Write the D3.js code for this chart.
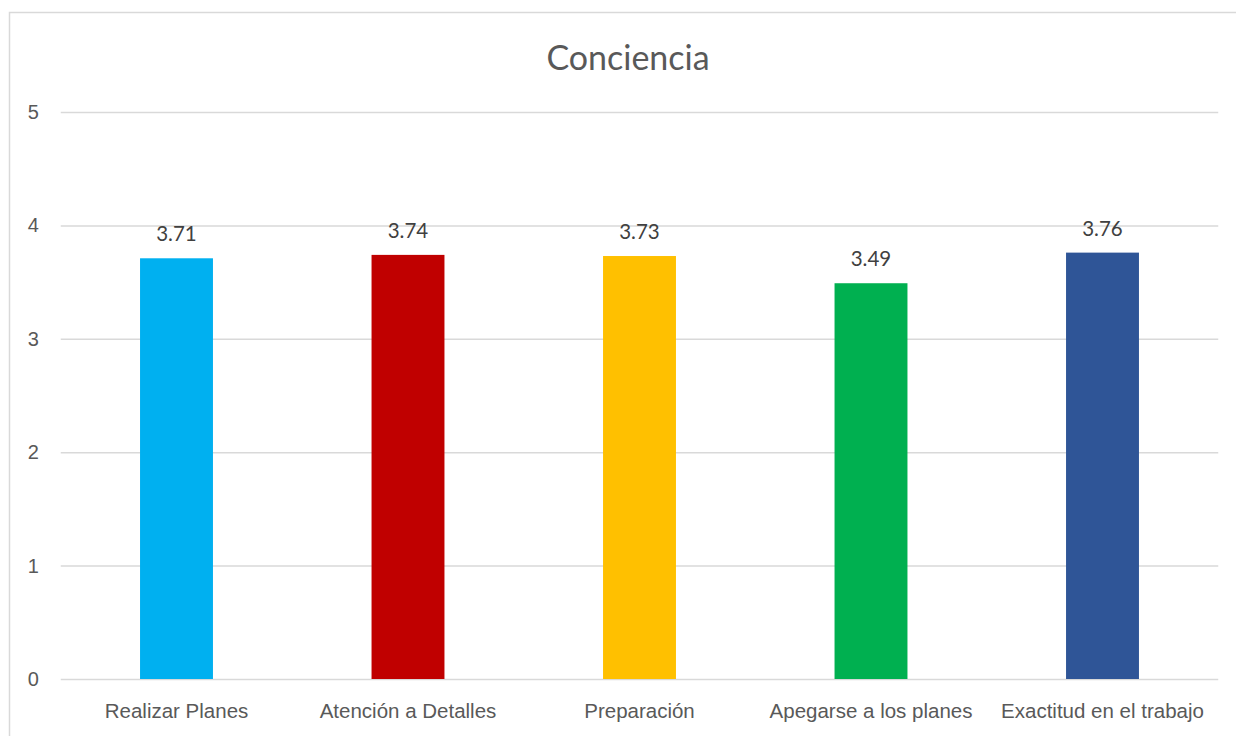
<!DOCTYPE html>
<html><head><meta charset="utf-8">
<script src="https://cdn.jsdelivr.net/npm/d3@7"></script>
<style>body{margin:0;background:#fff;}svg{display:block;font-family:Lato,"Open Sans",sans-serif;}</style>
</head><body><svg id="c" width="1236" height="736"></svg>
<script>
const title = "Conciencia";
const categories = ["Realizar Planes","Atención a Detalles","Preparación","Apegarse a los planes","Exactitud en el trabajo"];
const values = [3.71,3.74,3.73,3.49,3.76];
const colors = ["#00B0F0","#C00000","#FFC000","#00B050","#2F5597"];
const yTicks = [0,1,2,3,4,5];

const svg = d3.select("#c");
svg.append("rect").attr("x",9.5).attr("y",12.5).attr("width",1240).attr("height",740)
  .attr("fill","#fff").attr("stroke","#d9d9d9").attr("stroke-width",1.5);

const pL=60.75, pR=1218.25, pT=112, pB=679;
const x = d3.scaleBand().domain(categories).range([pL,pR]).paddingInner(0.685).paddingOuter(0.3425);
const y = d3.scaleLinear().domain([0,5]).range([pB,pT]);

const ya = svg.append("g").attr("transform",`translate(${pL},0)`)
  .call(d3.axisLeft(y).tickValues(yTicks).tickSize(-(pR-pL)).tickPadding(22).tickFormat(d3.format("d")));
ya.select(".domain").remove();
ya.selectAll("line").attr("stroke","#d9d9d9").attr("stroke-width",1.5);
ya.selectAll("text").attr("fill","#595959").attr("font-size",20);

const xa = svg.append("g").attr("transform",`translate(0,${pB})`)
  .call(d3.axisBottom(x).tickSize(0).tickPadding(24));
xa.select(".domain").remove();
xa.selectAll("text").attr("fill","#595959").attr("font-size",20.5);

svg.selectAll(".bar").data(values).enter().append("rect")
  .attr("x",(d,i)=>x(categories[i])).attr("width",x.bandwidth())
  .attr("y",d=>y(d)).attr("height",d=>y(0)-y(d)).attr("fill",(d,i)=>colors[i]);

svg.selectAll(".lbl").data(values).enter().append("text")
  .attr("x",(d,i)=>x(categories[i])+x.bandwidth()/2).attr("y",d=>y(d)-17)
  .attr("text-anchor","middle").attr("fill","#404040").attr("font-size",20.5)
  .text(d=>d.toFixed(2));

svg.append("text").attr("x",628).attr("y",70).attr("text-anchor","middle")
  .attr("fill","#595959").attr("font-size",34).text(title);
</script></body></html>
